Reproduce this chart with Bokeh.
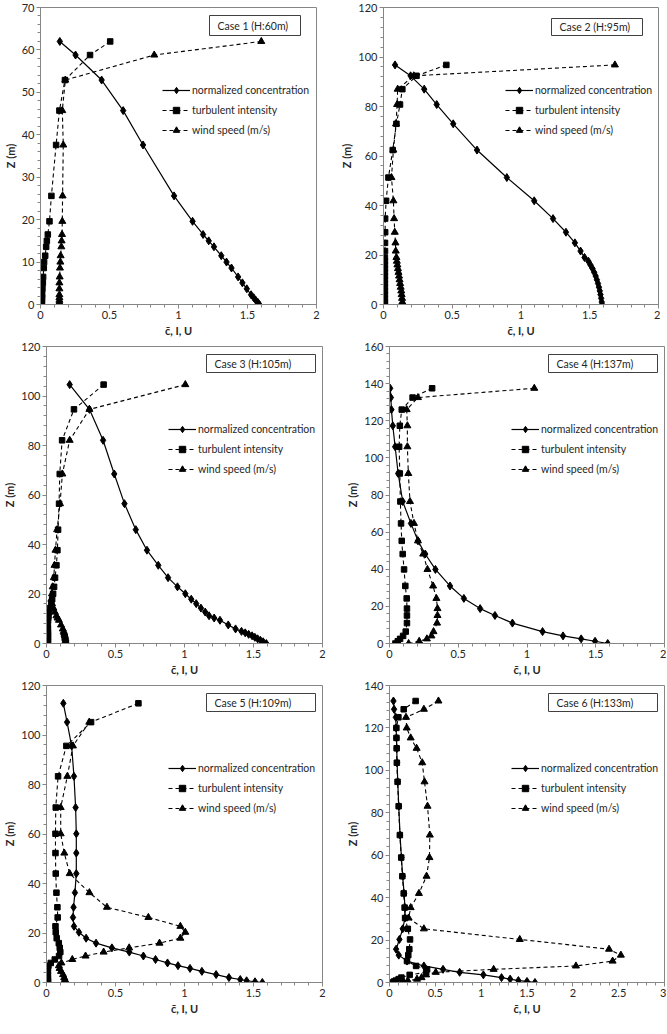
from bokeh.plotting import figure
from bokeh.models import (Range1d, SingleIntervalTicker, Legend, LegendItem,
                          BoxAnnotation, Label)
from bokeh.layouts import column, row
from bokeh.embed import file_html
from bokeh.resources import INLINE

FONT = "Lato"

# ---------------- data ----------------
series_names = ["normalized concentration", "turbulent intensity", "wind speed (m/s)"]
case_titles = ["Case 1 (H:60m)", "Case 2 (H:95m)", "Case 3 (H:105m)",
               "Case 4 (H:137m)", "Case 5 (H:109m)", "Case 6 (H:133m)"]
x_label = "c\u0304, I, U"
y_label = "Z (m)"
x_ticks_2 = [0, 0.5, 1, 1.5, 2]
x_tick_labels_2 = ["0", "0.5", "1", "1.5", "2"]
x_ticks_3 = [0, 0.5, 1, 1.5, 2, 2.5, 3]
x_tick_labels_3 = ["0", "0.5", "1", "1.5", "2", "2.5", "3"]
y_max = [70, 120, 120, 160, 120, 140]
y_step = [10, 20, 20, 20, 20, 20]
x_max = [2, 2, 2, 2, 2, 3]

# Case 1
z1 = [62.0, 58.8, 52.9, 45.7, 37.6, 25.6, 19.6, 16.5, 15.0, 13.6, 11.5, 10.0, 8.6, 6.5, 5.1, 3.7, 2.3, 1.6, 1.0, 0.5, 0.0]
c1 = [0.14, 0.254, 0.443, 0.599, 0.743, 0.968, 1.102, 1.178, 1.219, 1.257, 1.310, 1.348, 1.384, 1.432, 1.463, 1.495, 1.526, 1.545, 1.560, 1.575, 1.586]
i1 = [0.505, 0.359, 0.177, 0.137, 0.113, 0.079, 0.065, 0.053, 0.046, 0.041, 0.034, 0.026, 0.024, 0.019, 0.017, 0.014, 0.012, 0.011, 0.010, 0.010, 0.010]
u1 = [1.60, 0.824, 0.180, 0.158, 0.165, 0.160, 0.158, 0.156, 0.153, 0.151, 0.146, 0.144, 0.141, 0.139, 0.137, 0.137, 0.137, 0.137, 0.137, 0.137, 0.137]
zu1 = z1

# Case 2
z2 = [96.8, 92.4, 87.0, 80.8, 73.0, 62.4, 51.3, 41.9, 34.7, 29.2, 24.9, 21.6, 19.0, 17.5, 16.0, 14.5, 13.0, 11.5, 10.0, 8.5, 7.0, 5.5, 4.0, 2.5, 1.0, 0.0]
c2 = [0.084, 0.197, 0.296, 0.387, 0.507, 0.680, 0.897, 1.096, 1.233, 1.327, 1.392, 1.433, 1.462, 1.490, 1.505, 1.520, 1.532, 1.543, 1.552, 1.560, 1.567, 1.573, 1.578, 1.583, 1.587, 1.590]
i2 = [0.457, 0.240, 0.137, 0.120, 0.094, 0.067, 0.036, 0.019, 0.012, 0.012, 0.011, 0.011, 0.010, 0.010, 0.010, 0.010, 0.010, 0.010, 0.010, 0.010, 0.010, 0.010, 0.010, 0.010, 0.010, 0.010]
u2 = [1.683, 0.220, 0.103, 0.099, 0.091, 0.072, 0.058, 0.072, 0.077, 0.082, 0.087, 0.089, 0.094, 0.097, 0.101, 0.105, 0.109, 0.113, 0.117, 0.121, 0.125, 0.129, 0.132, 0.135, 0.137, 0.139]
zu2 = z2

# Case 3
z3 = [104.6, 94.6, 82.1, 68.5, 56.5, 46.0, 37.7, 31.6, 26.6, 22.9, 20.1, 17.9, 16.1, 14.3, 12.7, 11.2, 10.3, 9.4, 7.5, 5.9, 4.9, 4.3, 3.7, 3.1, 2.5, 1.9, 1.3, 0.7, 0.0]
c3 = [0.168, 0.311, 0.410, 0.491, 0.565, 0.647, 0.728, 0.810, 0.881, 0.949, 1.006, 1.049, 1.085, 1.119, 1.150, 1.178, 1.215, 1.257, 1.317, 1.370, 1.413, 1.440, 1.465, 1.490, 1.510, 1.530, 1.550, 1.570, 1.593]
i3 = [0.414, 0.199, 0.113, 0.096, 0.091, 0.084, 0.079, 0.072, 0.062, 0.055, 0.048, 0.041, 0.035, 0.025, 0.018, 0.014, 0.012, 0.011, 0.010, 0.010, 0.010, 0.010, 0.010, 0.010, 0.010, 0.010, 0.010, 0.010, 0.010]
u3 = [1.006, 0.311, 0.168, 0.115, 0.098, 0.077, 0.065, 0.058, 0.053, 0.045, 0.040, 0.035, 0.040, 0.050, 0.060, 0.072, 0.080, 0.090, 0.105, 0.118, 0.125, 0.128, 0.131, 0.133, 0.135, 0.137, 0.138, 0.139, 0.140]
zu3 = z3

# Case 4
z4 = [137.5, 132.5, 126.0, 117.3, 106.0, 91.6, 76.5, 64.7, 55.3, 48.2, 39.9, 31.0, 24.3, 18.8, 15.1, 11.0, 6.4, 4.1, 2.5, 1.2, 0.0]
c4 = [0.005, 0.010, 0.014, 0.024, 0.041, 0.063, 0.096, 0.156, 0.207, 0.260, 0.334, 0.440, 0.541, 0.659, 0.767, 0.894, 1.113, 1.262, 1.394, 1.495, 1.587]
i4 = [0.310, 0.168, 0.089, 0.075, 0.070, 0.075, 0.079, 0.084, 0.089, 0.096, 0.106, 0.115, 0.125, 0.127, 0.127, 0.127, 0.118, 0.099, 0.077, 0.060, 0.043]
u4 = [1.053, 0.207, 0.125, 0.130, 0.130, 0.137, 0.149, 0.178, 0.207, 0.245, 0.276, 0.317, 0.341, 0.349, 0.349, 0.346, 0.320, 0.305, 0.272, 0.216, 0.139]
zu4 = z4

# Case 5
z5 = [112.8, 105.2, 95.6, 83.3, 70.7, 60.1, 52.3, 44.0, 36.3, 30.4, 26.3, 22.7, 20.3, 17.9, 15.9, 14.0, 12.3, 10.7, 9.3, 7.9, 6.8, 5.7, 4.5, 3.2, 2.0, 1.2, 0.7, 0.3, 0.0]
c5 = [0.122, 0.149, 0.182, 0.199, 0.211, 0.216, 0.216, 0.216, 0.206, 0.196, 0.192, 0.199, 0.235, 0.287, 0.359, 0.474, 0.600, 0.702, 0.790, 0.877, 0.953, 1.040, 1.126, 1.229, 1.322, 1.404, 1.450, 1.511, 1.564]
i5 = [0.666, 0.323, 0.144, 0.084, 0.067, 0.065, 0.065, 0.067, 0.072, 0.079, 0.081, 0.065, 0.067, 0.074, 0.089, 0.096, 0.100, 0.091, 0.060, 0.031, 0.014, 0.010, 0.010, 0.010, 0.010, 0.010, 0.010, 0.010, 0.010]
zu5 = [105.2, 95.6, 83.3, 70.7, 60.1, 52.3, 44.0, 36.3, 30.4, 26.3, 22.7, 20.3, 17.9, 15.9, 14.0, 12.3, 10.7, 9.3, 7.9, 6.8, 5.7, 4.5, 3.2, 2.0, 1.2, 0.7, 0.3, 0.0]
u5 = [0.310, 0.192, 0.151, 0.103, 0.103, 0.129, 0.168, 0.311, 0.438, 0.738, 0.970, 1.006, 0.970, 0.819, 0.599, 0.414, 0.283, 0.187, 0.108, 0.090, 0.095, 0.105, 0.120, 0.128, 0.133, 0.136, 0.138, 0.139]

# Case 6
z6 = [132.7, 128.8, 125.0, 120.0, 115.3, 110.4, 103.6, 94.6, 83.1, 69.5, 58.9, 50.1, 42.0, 35.3, 30.4, 25.3, 20.3, 15.7, 12.9, 10.1, 7.8, 6.2, 4.8, 3.6, 2.3, 1.6, 0.9, 0.5, 0.0]
c6 = [0.043, 0.050, 0.069, 0.072, 0.076, 0.079, 0.083, 0.090, 0.101, 0.115, 0.130, 0.144, 0.159, 0.169, 0.169, 0.144, 0.108, 0.072, 0.101, 0.191, 0.375, 0.584, 0.765, 1.024, 1.222, 1.316, 1.406, 1.500, 1.587]
i6 = [0.285, 0.155, 0.097, 0.075, 0.076, 0.078, 0.080, 0.088, 0.100, 0.113, 0.128, 0.140, 0.155, 0.165, 0.170, 0.200, 0.224, 0.216, 0.205, 0.191, 0.290, 0.410, 0.400, 0.220, 0.130, 0.100, 0.070, 0.050, 0.030]
u6 = [0.534, 0.375, 0.180, 0.188, 0.231, 0.296, 0.357, 0.382, 0.415, 0.440, 0.436, 0.404, 0.321, 0.231, 0.209, 0.375, 1.421, 2.395, 2.524, 2.434, 2.034, 1.136, 0.505, 0.400, 0.350, 0.300, 0.200, 0.150, 0.140]
zu6 = z6

cases = [(z1, c1, i1, zu1, u1), (z2, c2, i2, zu2, u2), (z3, c3, i3, zu3, u3),
         (z4, c4, i4, zu4, u4), (z5, c5, i5, zu5, u5), (z6, c6, i6, zu6, u6)]

# ---------------- layout constants ----------------
FH = 297
AX = "#868686"
TXT = "#262626"
FS = "10.5px"


def make_panel(k):
    z, c, i, zu, u = cases[k]
    left = (k % 2 == 0)
    fw = 276 if left else 275
    xm, ym = x_max[k], y_max[k]
    p = figure(frame_width=fw, frame_height=FH,
               x_range=Range1d(0, xm), y_range=Range1d(0, ym),
               output_backend="svg", toolbar_location=None,
               min_border_left=36 if left else 53,
               min_border_right=14 if left else 2,
               min_border_top=7, min_border_bottom=35)
    p.grid.visible = False
    p.outline_line_color = AX
    p.outline_line_width = 1
    p.background_fill_color = "white"
    p.border_fill_color = "white"

    ticks = x_ticks_3 if xm == 3 else x_ticks_2
    labels = x_tick_labels_3 if xm == 3 else x_tick_labels_2
    p.xaxis.ticker = SingleIntervalTicker(interval=0.5, num_minor_ticks=5)
    p.xaxis.major_label_overrides = {t: l for t, l in zip(ticks, labels)}
    p.yaxis.ticker = SingleIntervalTicker(interval=y_step[k], num_minor_ticks=5)

    for ax in (p.xaxis[0], p.yaxis[0]):
        ax.axis_line_color = AX
        ax.major_tick_line_color = AX
        ax.minor_tick_line_color = AX
        ax.major_tick_in = 0
        ax.major_tick_out = 4
        ax.minor_tick_in = 0
        ax.minor_tick_out = 3
        ax.major_label_text_font = FONT
        ax.major_label_text_font_size = "11px"
        ax.major_label_text_color = TXT
        ax.major_label_standoff = 2
        ax.axis_label_text_font = FONT
        ax.axis_label_text_font_size = "11px"
        ax.axis_label_text_font_style = "bold"
        ax.axis_label_text_color = TXT
        ax.axis_label_standoff = 2
    p.xaxis.axis_label = x_label
    p.yaxis.axis_label = y_label

    lc = p.line(c, z, line_color="black", line_width=1.2)
    sc = p.scatter(c, z, marker="diamond", size=8, color="black")
    li = p.line(i, z, line_color="black", line_width=1.1, line_dash="4 3")
    si = p.scatter(i, z, marker="square", size=5.5, color="black")
    lu = p.line(u, zu, line_color="black", line_width=1.1, line_dash="4 3")
    su = p.scatter(u, zu, marker="triangle", size=7, color="black")

    # legend: rows centred 83/103/123 px below frame top; location = bottom-left
    legend = Legend(items=[LegendItem(label=series_names[0], renderers=[lc, sc]),
                           LegendItem(label=series_names[1], renderers=[li, si]),
                           LegendItem(label=series_names[2], renderers=[lu, su])],
                    location=(122, FH - 131), orientation="vertical",
                    glyph_width=28, glyph_height=16, label_height=16,
                    spacing=4, padding=0, margin=0, label_standoff=2,
                    border_line_color=None, background_fill_alpha=0,
                    label_text_font=FONT, label_text_font_size=FS,
                    label_text_color=TXT)
    p.add_layout(legend)

    # case box (positions in pixels from frame top-right, converted to data)
    if k < 2:
        gap_r, bw, top, bh = 16, 91, 8 + (3 if k == 1 else 0), 20 - (3 if k == 1 else 0)
    else:
        gap_r, bw, top, bh = 7, 109, 8, 18
    xr = (fw - gap_r) / fw * xm
    xl = (fw - gap_r - bw) / fw * xm
    yt = ym - top / FH * ym
    yb = ym - (top + bh) / FH * ym
    p.add_layout(BoxAnnotation(left=xl, right=xr, top=yt, bottom=yb,
                               fill_color="white", fill_alpha=1.0,
                               line_color="#404040", line_width=1, line_alpha=1.0))
    p.add_layout(Label(x=xl + 8 / fw * xm, y=(yt + yb) / 2, text=case_titles[k],
                       text_baseline="middle", text_align="left",
                       text_font=FONT, text_font_size=FS, text_color=TXT))
    return p


panels = [make_panel(k) for k in range(6)]
layout = column(row(panels[0], panels[1]), row(panels[2], panels[3]),
                row(panels[4], panels[5]))

open("out.html", "w").write(file_html(layout, INLINE))
